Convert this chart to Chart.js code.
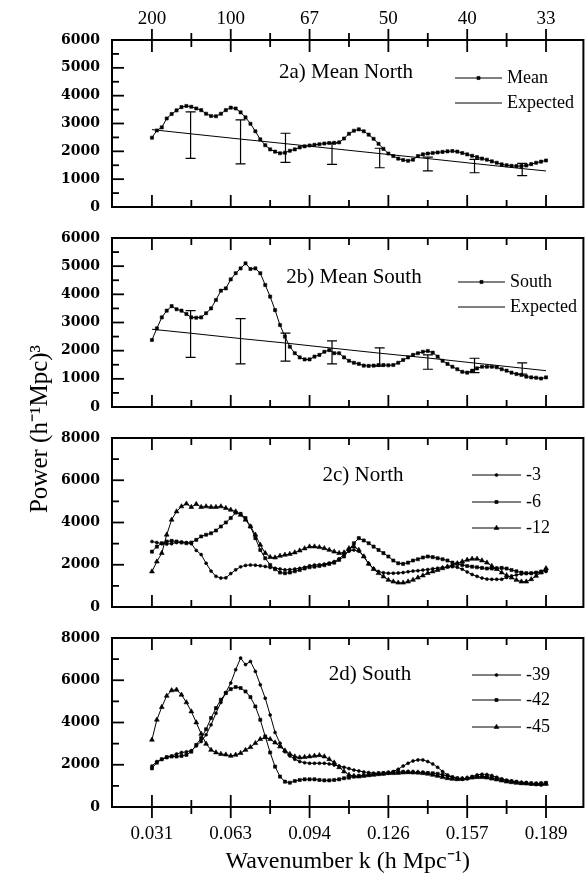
<!DOCTYPE html>
<html lang="en">
<head>
  <meta charset="UTF-8" />
  <title>Power spectra, north and south</title>
  <script src="https://cdn.jsdelivr.net/npm/chart.js"></script>
  <style>
    body { margin: 0; background: #fff; }
    #wrap { position: relative; width: 588px; height: 880px; }
    #wrap canvas { position: absolute; left: 0; top: 0; }
  </style>
</head>
<body>
  <div id="wrap">
    <canvas id="pa" width="588" height="880"></canvas>
    <canvas id="pb" width="588" height="880"></canvas>
    <canvas id="pc" width="588" height="880"></canvas>
    <canvas id="pd" width="588" height="880"></canvas>
  </div>

  <script>
    // wavenumber grid (h/Mpc), shared by every curve
    const K = [
      0.03142, 0.03338, 0.03534, 0.03731, 0.03927, 0.04123, 0.04320, 0.04516, 0.04712, 0.04909,
      0.05105, 0.05301, 0.05498, 0.05694, 0.05890, 0.06087, 0.06283, 0.06480, 0.06676, 0.06872,
      0.07069, 0.07265, 0.07461, 0.07658, 0.07854, 0.08050, 0.08247, 0.08443, 0.08639, 0.08836,
      0.09032, 0.09228, 0.09425, 0.09621, 0.09817, 0.10014, 0.10210, 0.10407, 0.10603, 0.10799,
      0.10996, 0.11192, 0.11388, 0.11585, 0.11781, 0.11977, 0.12174, 0.12370, 0.12566, 0.12763,
      0.12959, 0.13155, 0.13352, 0.13548, 0.13744, 0.13941, 0.14137, 0.14334, 0.14530, 0.14726,
      0.14923, 0.15119, 0.15315, 0.15512, 0.15708, 0.15904, 0.16101, 0.16297, 0.16493, 0.16690,
      0.16886, 0.17082, 0.17279, 0.17475, 0.17671, 0.17868, 0.18064, 0.18261, 0.18457, 0.18653,
      0.18850
    ];
    const K_MIN = 0.0155, K_MAX = 0.2034;
    const K_MAJOR = [0.03142, 0.06283, 0.09425, 0.12566, 0.15708, 0.18850];
    const K_MINOR = [0.04712, 0.07854, 0.10996, 0.14137, 0.17279];
    const K_LABELS = ['0.031', '0.063', '0.094', '0.126', '0.157', '0.189'];
    const LAMBDA_LABELS = ['200', '100', '67', '50', '40', '33'];

    // 2a / 2b
    const MEAN_NORTH = [
      2490, 2750, 2860, 3180, 3340, 3470, 3590, 3630, 3600, 3540,
      3480, 3350, 3270, 3260, 3350, 3480, 3570, 3540, 3400, 3220,
      2990, 2720, 2430, 2220, 2070, 1990, 1930, 1950, 2020, 2070,
      2140, 2180, 2210, 2235, 2255, 2280, 2300, 2305, 2320, 2460,
      2630, 2740, 2790, 2720, 2600, 2450, 2270, 2090, 1920, 1830,
      1740, 1690, 1660, 1700, 1830, 1890, 1920, 1940, 1960, 1980,
      2000, 2010, 1990, 1940, 1890, 1840, 1790, 1740, 1700, 1640,
      1590, 1530, 1500, 1480, 1470, 1470, 1490, 1540, 1590, 1630,
      1670
    ];
    const MEAN_SOUTH = [
      2380, 2790, 3180, 3420, 3580, 3470, 3420, 3300, 3180, 3170,
      3180, 3330, 3500, 3800, 4130, 4210, 4530, 4750, 4920, 5100,
      4900, 4920, 4750, 4330, 3920, 3440, 2910, 2500, 2140, 1910,
      1760, 1690, 1690, 1790, 1850, 1960, 2020, 1910, 1910, 1760,
      1640, 1570, 1530, 1470, 1460, 1470, 1490, 1490, 1480, 1490,
      1570, 1670, 1760, 1850, 1910, 1960, 1990, 1930, 1790, 1640,
      1530, 1430, 1340, 1250, 1220, 1290, 1370, 1430, 1430, 1430,
      1410, 1340, 1290, 1220, 1170, 1140, 1080, 1050, 1040, 1010,
      1050
    ];
    const EXP_K = [0.03142, 0.04683, 0.06674, 0.08465, 0.10320, 0.12220, 0.14140, 0.16000, 0.17900, 0.18850];
    const EXPECTED_NORTH = [2780, 2630, 2440, 2275, 2100, 1920, 1740, 1560, 1380, 1295];
    const EXPECTED_SOUTH = [2760, 2620, 2430, 2270, 2090, 1910, 1740, 1560, 1380, 1290];
    const ERR_K = [0.04683, 0.06674, 0.08465, 0.10320, 0.12220, 0.14140, 0.16000, 0.17900];
    const ERR_LO_NORTH = [1750, 1550, 1600, 1530, 1410, 1300, 1230, 1130];
    const ERR_HI_NORTH = [3420, 3130, 2650, 2290, 2110, 1790, 1710, 1570];
    const ERR_LO_SOUTH = [1760, 1530, 1630, 1530, 1450, 1340, 1220, 1170];
    const ERR_HI_SOUTH = [3420, 3140, 2620, 2350, 2100, 1850, 1730, 1570];

    // 2c North
    const NORTH_3 = [
      3100, 3050, 3000, 2980, 3000, 3050, 3080, 3050, 3000, 2680,
      2480, 2070, 1700, 1450, 1370, 1380, 1580, 1760, 1900, 1970,
      1990, 1980, 1950, 1920, 1870, 1830, 1800, 1760, 1770, 1800,
      1830, 1880, 1950, 1990, 2000, 2030, 2080, 2150, 2280, 2500,
      2640, 2700, 2640, 2400, 2050, 1820, 1680, 1620, 1600, 1600,
      1610, 1630, 1670, 1700, 1720, 1750, 1770, 1810, 1840, 1870,
      1890, 1910, 1880, 1790, 1660, 1540, 1450, 1370, 1320, 1310,
      1310, 1310, 1400, 1470, 1520, 1560, 1590, 1600, 1610, 1640,
      1680
    ];
    const NORTH_6 = [
      2620, 2860, 3020, 3100, 3130, 3100, 3050, 3020, 3050, 3180,
      3340, 3420, 3490, 3620, 3810, 4000, 4210, 4470, 4410, 4210,
      3810, 3260, 2700, 2310, 1990, 1790, 1630, 1600, 1630, 1690,
      1750, 1820, 1880, 1910, 1940, 1980, 2040, 2100, 2230, 2390,
      2700, 3020, 3260, 3150, 3020, 2860, 2700, 2550, 2390, 2200,
      2070, 2040, 2100, 2200, 2260, 2340, 2390, 2360, 2310, 2260,
      2200, 2100, 2040, 1990, 1940, 1910, 1880, 1850, 1820, 1820,
      1830, 1850, 1820, 1750, 1690, 1630, 1600, 1600, 1630, 1680,
      1750
    ];
    const NORTH_12 = [
      1680, 2150, 2550, 3420, 4130, 4520, 4760, 4890, 4730, 4870,
      4730, 4760, 4730, 4730, 4760, 4680, 4600, 4520, 4360, 4130,
      3810, 3420, 2940, 2550, 2360, 2340, 2420, 2470, 2510, 2580,
      2670, 2770, 2860, 2860, 2830, 2780, 2700, 2620, 2550, 2580,
      2780, 2860, 2700, 2390, 2040, 1790, 1600, 1440, 1280, 1200,
      1150, 1150, 1200, 1280, 1390, 1490, 1600, 1680, 1750, 1830,
      1910, 1990, 2070, 2150, 2230, 2280, 2280, 2200, 2100, 1940,
      1790, 1630, 1500, 1390, 1280, 1200, 1200, 1310, 1470, 1630,
      1830
    ];

    // 2d South
    const SOUTH_39 = [
      1940, 2150, 2260, 2340, 2420, 2510, 2580, 2610, 2670, 2890,
      3100, 3420, 3890, 4440, 4950, 5420, 5870, 6500, 7050, 6740,
      6890, 6420, 5790, 5150, 4360, 3530, 3020, 2620, 2420, 2260,
      2150, 2100, 2070, 2070, 2070, 2070, 2040, 1990, 1940, 1880,
      1820, 1750, 1710, 1660, 1630, 1600, 1580, 1570, 1600, 1680,
      1790, 1940, 2070, 2180, 2230, 2230, 2150, 2040, 1880, 1680,
      1520, 1410, 1340, 1310, 1340, 1440, 1520, 1550, 1540, 1490,
      1410, 1330, 1260, 1220, 1190, 1150, 1120, 1090, 1060, 1040,
      1090
    ];
    const SOUTH_42 = [
      1830, 2100, 2260, 2360, 2390, 2390, 2420, 2470, 2620, 2940,
      3260, 3680, 4210, 4680, 5080, 5390, 5580, 5680, 5630, 5470,
      5200, 4760, 4130, 3340, 2580, 1910, 1440, 1200, 1150, 1230,
      1280, 1310, 1310, 1310, 1280, 1260, 1260, 1280, 1310, 1360,
      1390, 1440, 1470, 1500, 1530, 1570, 1600, 1610, 1630, 1640,
      1660, 1660, 1660, 1640, 1630, 1630, 1610, 1600, 1570, 1520,
      1470, 1410, 1360, 1340, 1360, 1410, 1440, 1450, 1440, 1390,
      1340, 1300, 1250, 1220, 1190, 1150, 1140, 1120, 1110, 1120,
      1140
    ];
    const SOUTH_45 = [
      3180, 4130, 4730, 5260, 5520, 5550, 5310, 4950, 4520, 4000,
      3460, 2990, 2700, 2580, 2510, 2480, 2420, 2470, 2550, 2700,
      2830, 3020, 3210, 3300, 3210, 3050, 2860, 2670, 2510, 2390,
      2340, 2360, 2390, 2420, 2450, 2390, 2260, 2100, 1880, 1680,
      1520, 1470, 1440, 1470, 1500, 1520, 1550, 1570, 1600, 1600,
      1610, 1630, 1640, 1640, 1630, 1600, 1570, 1520, 1470, 1410,
      1360, 1330, 1310, 1330, 1360, 1390, 1410, 1410, 1390, 1340,
      1300, 1250, 1200, 1170, 1140, 1120, 1110, 1090, 1080, 1080,
      1090
    ];

    const INK = '#000';
    const SERIF = '"Liberation Serif", "Times New Roman", serif';
    Chart.defaults.font.family = SERIF;
    Chart.defaults.color = INK;

    const pts = (ks, vs) => vs.map((v, i) => ({ x: ks[i], y: v }));

    function drawMarker(ctx, style, r, x, y) {
      if (!style) return;
      ctx.beginPath();
      if (style === 'circle') {
        ctx.arc(x, y, r, 0, Math.PI * 2);
      } else if (style === 'rect') {
        const h = r * Math.SQRT1_2;
        ctx.rect(x - h, y - h, 2 * h, 2 * h);
      } else {
        ctx.moveTo(x, y - r);
        ctx.lineTo(x + r * 0.866, y + r * 0.5);
        ctx.lineTo(x - r * 0.866, y + r * 0.5);
        ctx.closePath();
      }
      ctx.fill();
      ctx.stroke();
    }

    // frame, inward ticks, error bars, panel title and legend
    function decor(p) {
      return {
        id: 'decor',
        afterDatasetsDraw(chart) {
          const { ctx, chartArea: a } = chart;
          const xs = chart.scales.x, ys = chart.scales.y;
          ctx.save();
          ctx.strokeStyle = INK;
          ctx.fillStyle = INK;

          if (p.err) {
            ctx.lineWidth = 1.2;
            ERR_K.forEach((k, i) => {
              const px = xs.getPixelForValue(k);
              const lo = ys.getPixelForValue(p.err.lo[i]);
              const hi = ys.getPixelForValue(p.err.hi[i]);
              ctx.beginPath();
              ctx.moveTo(px, lo); ctx.lineTo(px, hi);
              ctx.moveTo(px - 5, lo); ctx.lineTo(px + 5, lo);
              ctx.moveTo(px - 5, hi); ctx.lineTo(px + 5, hi);
              ctx.stroke();
            });
          }

          ctx.lineWidth = 2;
          ctx.strokeRect(a.left, a.top, a.right - a.left, a.bottom - a.top);

          const line = (x1, y1, x2, y2) => {
            ctx.beginPath(); ctx.moveTo(x1, y1); ctx.lineTo(x2, y2); ctx.stroke();
          };
          ctx.lineWidth = 1.8;
          for (let v = p.minor; v < p.ymax; v += p.minor) {
            const py = ys.getPixelForValue(v);
            line(a.left, py, a.left + (v % p.major === 0 ? 12 : 7), py);
          }
          const xticks = (list, big) => list.forEach(k => {
            const px = xs.getPixelForValue(k);
            const inn = big ? 12 : 7, out = big ? 11 : 7;
            line(px, a.top - (p.crossTop ? out : 0), px, a.top + inn);
            line(px, a.bottom + (p.crossBottom ? out : 0), px, a.bottom - inn);
          });
          xticks(K_MAJOR, true);
          xticks(K_MINOR, false);

          ctx.font = '21px ' + SERIF;
          ctx.textAlign = 'center';
          ctx.textBaseline = 'middle';
          ctx.fillText(p.title, p.titleAt[0], p.titleAt[1]);

          ctx.font = '18px ' + SERIF;
          ctx.textAlign = 'left';
          p.legend.forEach((item, i) => {
            const ly = p.legendY[i];
            const [x0, x1] = p.legendX;
            ctx.lineWidth = 1;
            line(x0, ly, x1, ly);
            ctx.lineWidth = 0.6;
            drawMarker(ctx, item.style, item.r, (x0 + x1) / 2, ly);
            ctx.fillText(item.label, x1 + 5, ly);
          });

          if (p.yTitle) {
            ctx.translate(40, 429);
            ctx.rotate(-Math.PI / 2);
            ctx.textAlign = 'center';
            ctx.font = '25px ' + SERIF;
            ctx.fillText('Power (h\u207B\u00B9Mpc)\u00B3', 0, 0);
          }
          ctx.restore();
        }
      };
    }

    function buildPanel(p) {
      const datasets = p.series.map(s => ({
        data: pts(K, s.values),
        borderColor: INK,
        borderWidth: 1,
        pointStyle: s.style,
        pointRadius: s.r,
        pointBackgroundColor: INK,
        pointBorderColor: INK,
        pointBorderWidth: 0.6,
        tension: 0
      }));
      if (p.expected) {
        datasets.push({ data: pts(EXP_K, p.expected), borderColor: INK, borderWidth: 1, pointRadius: 0 });
      }

      const scales = {
        x: {
          type: 'linear',
          min: K_MIN,
          max: K_MAX,
          display: !!p.bottomLabels,
          grid: { display: false, drawTicks: false },
          border: { display: false },
          afterBuildTicks: s => { s.ticks = K_MAJOR.map(v => ({ value: v })); },
          ticks: {
            autoSkip: false, maxRotation: 0, padding: 16,
            font: { size: 19 },
            callback: (v, i) => K_LABELS[i]
          },
          title: {
            display: true,
            text: 'Wavenumber k (h Mpc\u207B\u00B9)',
            font: { size: 24 },
            padding: { top: 0, bottom: 4 }
          },
          afterFit: s => { s.height = p.bottomLabels ? 73 : 0; }
        },
        y: {
          min: 0,
          max: p.ymax,
          grid: { display: false, drawTicks: false },
          border: { display: false },
          ticks: {
            stepSize: p.major, padding: 12,
            font: { family: '"DejaVu Serif", serif', size: 14, weight: 'bold' },
            callback: v => String(v)
          },
          afterFit: s => { s.width = 62; }
        }
      };
      if (p.topLabels) {
        scales.x2 = {
          type: 'linear',
          axis: 'x',
          position: 'top',
          min: K_MIN,
          max: K_MAX,
          grid: { display: false, drawTicks: false },
          border: { display: false },
          afterBuildTicks: s => { s.ticks = K_MAJOR.map(v => ({ value: v })); },
          ticks: {
            autoSkip: false, maxRotation: 0, padding: 10,
            font: { size: 19 },
            callback: (v, i) => LAMBDA_LABELS[i]
          },
          afterFit: s => { s.height = 40; }
        };
      }

      new Chart(document.getElementById(p.id), {
        type: 'line',
        data: { datasets },
        options: {
          responsive: false,
          animation: false,
          devicePixelRatio: 1,
          layout: { padding: p.padding },
          plugins: { legend: { display: false }, tooltip: { enabled: false } },
          scales
        },
        plugins: [decor(p)]
      });
    }

    buildPanel({
      id: 'pa', ymax: 6000, major: 1000, minor: 500,
      padding: { top: 0, bottom: 673, left: 50, right: 4 },
      topLabels: true, crossTop: true,
      series: [{ values: MEAN_NORTH, style: 'rect', r: 2.2 }],
      expected: EXPECTED_NORTH,
      err: { lo: ERR_LO_NORTH, hi: ERR_HI_NORTH },
      title: '2a) Mean North', titleAt: [346, 72],
      legend: [{ label: 'Mean', style: 'rect', r: 2.2 }, { label: 'Expected' }],
      legendX: [455, 502], legendY: [78, 103]
    });

    buildPanel({
      id: 'pb', ymax: 6000, major: 1000, minor: 500,
      padding: { top: 238, bottom: 473, left: 50, right: 4 },
      series: [{ values: MEAN_SOUTH, style: 'rect', r: 2.2 }],
      expected: EXPECTED_SOUTH,
      err: { lo: ERR_LO_SOUTH, hi: ERR_HI_SOUTH },
      title: '2b) Mean South', titleAt: [354, 277],
      legend: [{ label: 'South', style: 'rect', r: 2.2 }, { label: 'Expected' }],
      legendX: [458, 505], legendY: [282, 307],
      yTitle: true
    });

    buildPanel({
      id: 'pc', ymax: 8000, major: 2000, minor: 1000,
      padding: { top: 438, bottom: 273, left: 50, right: 4 },
      series: [
        { values: NORTH_3, style: 'circle', r: 1.5 },
        { values: NORTH_6, style: 'rect', r: 2.2 },
        { values: NORTH_12, style: 'triangle', r: 2.8 }
      ],
      title: '2c) North', titleAt: [363, 475],
      legend: [
        { label: '-3', style: 'circle', r: 1.5 },
        { label: '-6', style: 'rect', r: 2.2 },
        { label: '-12', style: 'triangle', r: 2.8 }
      ],
      legendX: [472, 521], legendY: [475, 502, 528]
    });

    buildPanel({
      id: 'pd', ymax: 8000, major: 2000, minor: 1000,
      padding: { top: 638, bottom: 0, left: 50, right: 4 },
      bottomLabels: true, crossBottom: true,
      series: [
        { values: SOUTH_39, style: 'circle', r: 1.5 },
        { values: SOUTH_42, style: 'rect', r: 2.2 },
        { values: SOUTH_45, style: 'triangle', r: 2.8 }
      ],
      title: '2d) South', titleAt: [370, 674],
      legend: [
        { label: '-39', style: 'circle', r: 1.5 },
        { label: '-42', style: 'rect', r: 2.2 },
        { label: '-45', style: 'triangle', r: 2.8 }
      ],
      legendX: [472, 521], legendY: [675, 700, 727]
    });
  </script>
</body>
</html>
